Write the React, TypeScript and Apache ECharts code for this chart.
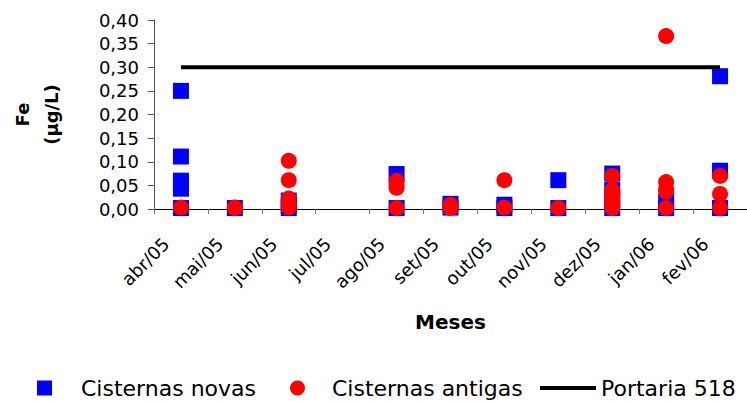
import React, { useEffect, useRef } from "react";
import * as echarts from "echarts";

const months = ["abr/05", "mai/05", "jun/05", "jul/05", "ago/05", "set/05", "out/05", "nov/05", "dez/05", "jan/06", "fev/06"];

// Fe (µg/L) values per month
const cisternasNovas: number[][] = [
  [0.25, 0.111, 0.06, 0.052, 0.043, 0.002],
  [0.002],
  [0.018, 0.008, 0.002],
  [],
  [0.074, 0.002],
  [0.011, 0.003],
  [0.009, 0.002],
  [0.061, 0.002],
  [0.075, 0.04, 0.02, 0.002],
  [0.015, 0.002],
  [0.281, 0.081, 0.002],
];

const cisternasAntigas: number[][] = [
  [0.003],
  [0.002, 0.003],
  [0.102, 0.061, 0.022, 0.01, 0.003],
  [],
  [0.06, 0.052, 0.045, 0.002],
  [0.009, 0.005, 0.002],
  [0.061, 0.003],
  [0.002],
  [0.07, 0.04, 0.03, 0.02, 0.01, 0.002],
  [0.366, 0.057, 0.042, 0.037, 0.002],
  [0.07, 0.032, 0.002],
];

const portaria518 = [0.3, 0.3, 0.3, 0.3, 0.3, 0.3, 0.3, 0.3, 0.3, 0.3, 0.3];

const FONT = "'DejaVu Sans', sans-serif";

function toPoints(groups: number[][]) {
  const pts: [number, number][] = [];
  groups.forEach((vals, i) => vals.forEach((v) => pts.push([i, v])));
  return pts;
}

export default function App() {
  const ref = useRef<HTMLDivElement>(null);

  useEffect(() => {
    const chart = echarts.init(ref.current!, null, { renderer: "svg" });
    const legendText = (pad: number) => ({
      fontFamily: FONT,
      fontSize: 22,
      color: "#000",
      lineHeight: 22,
      padding: [0, 0, 0, pad],
    });
    chart.setOption({
      animation: false,
      backgroundColor: "#fff",
      textStyle: { fontFamily: FONT },
      grid: { left: 152, top: 20, width: 599, height: 189, containLabel: false },
      xAxis: {
        type: "category",
        data: months,
        boundaryGap: true,
        name: "Meses",
        nameLocation: "middle",
        nameGap: 103,
        nameTextStyle: { fontFamily: FONT, fontSize: 20, fontWeight: "bold", color: "#000" },
        axisLine: { lineStyle: { color: "#000", width: 1 } },
        axisTick: { show: true, alignWithLabel: false, length: 5, lineStyle: { color: "#777" } },
        axisLabel: {
          rotate: 45,
          margin: 17,
          padding: [0, 21, 0, 0],
          fontFamily: FONT,
          fontSize: 18,
          color: "#000",
          interval: 0,
        },
        splitLine: { show: false },
      },
      yAxis: {
        type: "value",
        min: 0,
        max: 0.4,
        interval: 0.05,
        name: "Fe\n(µg/L)",
        nameLocation: "middle",
        nameRotate: 90,
        nameGap: 88,
        nameTextStyle: { fontFamily: FONT, fontSize: 18, fontWeight: "bold", color: "#000", lineHeight: 29 },
        axisLine: { show: true, lineStyle: { color: "#555", width: 1 } },
        axisTick: { show: true, length: 6, lineStyle: { color: "#555" } },
        axisLabel: {
          margin: 15,
          fontFamily: FONT,
          fontSize: 18,
          color: "#000",
          formatter: (v: number) => v.toFixed(2).replace(".", ","),
        },
        splitLine: { show: false },
      },
      legend: [
        {
          data: [{ name: "Cisternas novas", icon: "rect" }],
          left: 37,
          top: 377,
          padding: 0,
          itemWidth: 15,
          itemHeight: 15,
          textStyle: legendText(24),
        },
        {
          data: [{ name: "Cisternas antigas", icon: "circle" }],
          left: 290,
          top: 377,
          padding: 0,
          itemWidth: 15,
          itemHeight: 15,
          textStyle: legendText(22),
        },
        {
          data: [{ name: "Portaria 518", icon: "rect" }],
          left: 540,
          top: 377,
          padding: 0,
          itemWidth: 56,
          itemHeight: 4,
          textStyle: legendText(0),
        },
      ],
      series: [
        {
          name: "Cisternas novas",
          type: "scatter",
          symbol: "rect",
          symbolSize: 16,
          itemStyle: { color: "#0000FF", opacity: 1 },
          data: toPoints(cisternasNovas),
          z: 2,
        },
        {
          name: "Cisternas antigas",
          type: "scatter",
          symbol: "circle",
          symbolSize: 16,
          itemStyle: { color: "#FF0000", opacity: 1 },
          data: toPoints(cisternasAntigas),
          z: 3,
        },
        {
          name: "Portaria 518",
          type: "line",
          symbol: "none",
          showSymbol: false,
          lineStyle: { color: "#000", width: 4 },
          itemStyle: { color: "#000" },
          data: portaria518,
          z: 4,
        },
      ],
    });
    return () => chart.dispose();
  }, []);

  return (
    <div
      ref={ref}
      style={{ position: "absolute", left: 0, top: 0, width: 747, height: 401, background: "#fff" }}
    />
  );
}
